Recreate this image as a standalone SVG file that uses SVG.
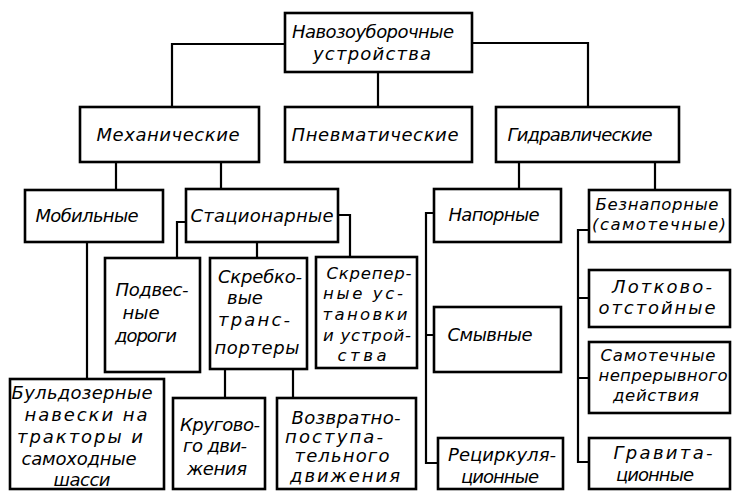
<svg xmlns="http://www.w3.org/2000/svg" width="732" height="491" viewBox="0 0 732 491">
<style>
.b{fill:#fff;stroke:#000;stroke-width:2.6}
.c{fill:none;stroke:#000;stroke-width:2.2}
text{font-family:"DejaVu Sans","Liberation Sans",sans-serif;font-style:italic;font-size:18px;fill:#000;text-anchor:middle}
.s{font-size:16.5px}
</style>
<rect width="732" height="491" fill="#fff"/>
<g id="connectors" class="c">
<path d="M285,44H172V107M472,43H588V107M378,72V107"/>
<path d="M116,162V190M221,162V189M519,162V189M655,162V190"/>
<path d="M87,242V379"/>
<path d="M186,222H177V258M338,215H350V257M257,242V258"/>
<path d="M225,369V398M293,369V398"/>
<path d="M434,213H426V463H438M426,335H434"/>
<path d="M589,230H578V462H589M578,298H589M578,378H589"/>
</g>
<g id="n0"><rect class="b" x="285" y="13" width="187" height="59"/><text x="373" y="38" textLength="162">Навозоуборочные</text><text x="372" y="60" textLength="118">устройства</text></g>
<g id="n1"><rect class="b" x="80" y="107" width="179" height="55"/><text x="168" y="141" textLength="143">Механические</text></g>
<g id="n2"><rect class="b" x="285" y="107" width="187" height="55"/><text x="375" y="141" textLength="167">Пневматические</text></g>
<g id="n3"><rect class="b" x="496" y="107" width="183" height="55"/><text x="580" y="141" textLength="145">Гидравлические</text></g>
<g id="n4"><rect class="b" x="25" y="190" width="138" height="52"/><text x="87" y="222" textLength="103">Мобильные</text></g>
<g id="n5"><rect class="b" x="186" y="189" width="152" height="53"/><text x="262" y="222" textLength="143">Стационарные</text></g>
<g id="n6"><rect class="b" x="434" y="189" width="127" height="53"/><text x="494" y="221" textLength="91">Напорные</text></g>
<g id="n7"><rect class="b" x="589" y="190" width="141" height="52"/><text class="s" x="657" y="210" textLength="123">Безнапорные</text><text class="s" x="659" y="230" textLength="134">(самотечные)</text></g>
<g id="n8"><rect class="b" x="105" y="258" width="95" height="114"/><text x="152" y="296" textLength="73">Подвес-</text><text x="141" y="319">ные</text><text x="146" y="342" textLength="62">дороги</text></g>
<g id="n9"><rect class="b" x="210" y="258" width="97" height="111"/><text x="260" y="283" textLength="84">Скребко-</text><text x="245" y="304">вые</text><text x="254" y="326" textLength="72">транс-</text><text x="257" y="354" textLength="85">портеры</text></g>
<g id="n10"><rect class="b" x="316" y="257" width="101" height="111"/><text class="s" x="369" y="279" textLength="85">Скрепер-</text><text class="s" x="363" y="299" textLength="80">ные ус-</text><text class="s" x="365" y="320" textLength="85">тановки</text><text class="s" x="367" y="341" textLength="88">и устрой-</text><text class="s" x="362" y="361" textLength="49">ства</text></g>
<g id="n11"><rect class="b" x="434" y="307" width="127" height="65"/><text x="490" y="341" textLength="85">Смывные</text></g>
<g id="n12"><rect class="b" x="438" y="438" width="125" height="51"/><text x="502" y="461" textLength="108">Рециркуля-</text><text x="500" y="483" textLength="78">ционные</text></g>
<g id="n13"><rect class="b" x="589" y="270" width="141" height="57"/><text x="662" y="293" textLength="100">Лотково-</text><text x="657" y="314" textLength="117">отстойные</text></g>
<g id="n14"><rect class="b" x="589" y="342" width="141" height="71"/><text class="s" x="658" y="361" textLength="115">Самотечные</text><text class="s" x="663" y="381" textLength="129">непрерывного</text><text class="s" x="656" y="401" textLength="86">действия</text></g>
<g id="n15"><rect class="b" x="589" y="438" width="141" height="51"/><text x="663" y="459" textLength="99">Гравита-</text><text x="655" y="481" textLength="78">ционные</text></g>
<g id="n16"><rect class="b" x="10" y="379" width="154" height="110"/><text x="82" y="399" textLength="141">Бульдозерные</text><text x="86" y="421" textLength="123">навески на</text><text x="80" y="443" textLength="126">тракторы и</text><text x="79" y="465" textLength="115">самоходные</text><text x="82" y="486" textLength="57">шасси</text></g>
<g id="n17"><rect class="b" x="173" y="398" width="92" height="91"/><text x="220" y="431" textLength="80">Кругово-</text><text x="215" y="452" textLength="64">го дви-</text><text x="217" y="475" textLength="60">жения</text></g>
<g id="n18"><rect class="b" x="277" y="398" width="139" height="91"/><text x="346" y="424" textLength="109">Возвратно-</text><text x="334" y="443" textLength="98">поступа-</text><text x="342" y="462" textLength="95">тельного</text><text x="345" y="482" textLength="110">движения</text></g>
</svg>
